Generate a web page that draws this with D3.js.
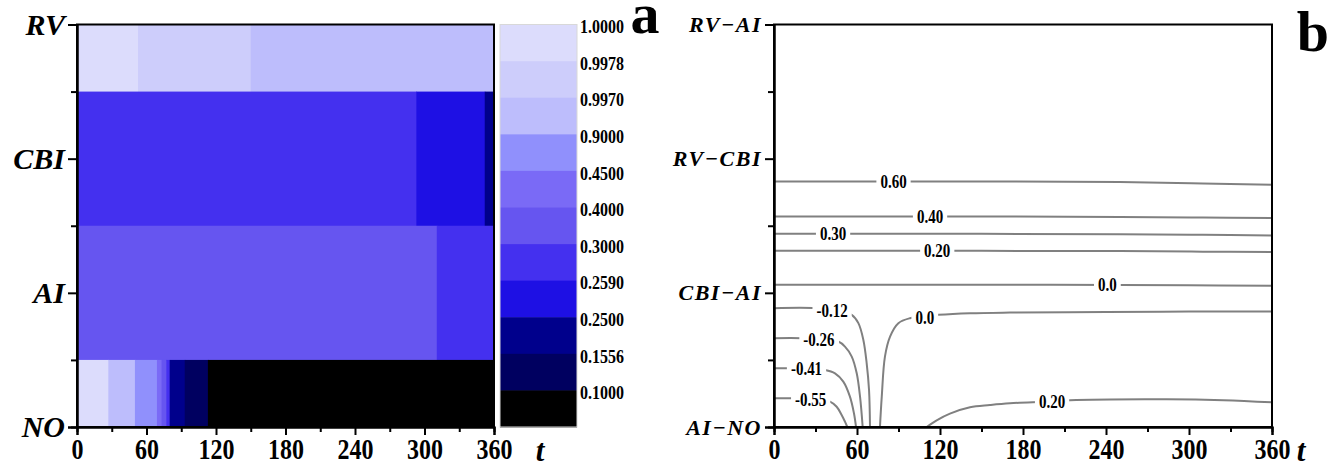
<!DOCTYPE html>
<html><head><meta charset="utf-8">
<script src="https://cdn.jsdelivr.net/npm/d3@7"></script>
<style>
html,body{margin:0;padding:0;background:#fff;}
svg{display:block;}
</style></head>
<body>
<script>
// ---------------- DATA ----------------
const tMajor = [0, 60, 120, 180, 240, 300, 360];
const tMinor = [30, 90, 150, 210, 270, 330];
const rowsA = ["NO", "AI", "CBI", "RV"];          // y = 0..3
const rowsB = ["AI\u2212NO", "CBI\u2212AI", "RV\u2212CBI", "RV\u2212AI"];

// colour bar levels (boundaries top→bottom) and band colours (top→bottom)
const levelLabels = ["1.0000", "0.9978", "0.9970", "0.9000", "0.4500", "0.4000", "0.3000", "0.2590", "0.2500", "0.1556", "0.1000"];
const bandColors = ["#dcdcfc", "#cdcdfb", "#bdbdfc", "#9090fc", "#7a6af6", "#6655f0", "#4430ef", "#1e10e4", "#00008c", "#000060", "#000000"];

// heat map rows: breakpoints in t and a value for each segment
const rvBreaks = [0, 52.7, 150, 360];
const rvValues = [0.999, 0.9975, 0.99];
const cbiBreaks = [0, 293, 352, 360];
const cbiValues = [0.28, 0.255, 0.2];
const aiBreaks = [0, 310.6, 360];
const aiValues = [0.35, 0.28];
const noBreaks = [0, 27, 50, 69, 73, 77, 80, 93, 113, 360];
const noValues = [0.999, 0.99, 0.6, 0.42, 0.35, 0.27, 0.2, 0.12, 0.05];

// contour lines of panel b: [t, y] points, label and label anchor [t, y]
const c060 = [[0, 1.83], [150, 1.83], [250, 1.826], [310, 1.815], [360, 1.806]];
const c040 = [[0, 1.569], [150, 1.569], [250, 1.566], [310, 1.561], [360, 1.557]];
const c030 = [[0, 1.44], [150, 1.44], [250, 1.437], [310, 1.432], [360, 1.428]];
const c020a = [[0, 1.313], [150, 1.313], [250, 1.311], [310, 1.307], [360, 1.304]];
const c000a = [[0, 1.06], [200, 1.06], [300, 1.057], [360, 1.052]];
const cm012 = [[0, 0.886], [30, 0.886], [42, 0.872], [50, 0.855], [56.2, 0.836], [61, 0.774], [64.6, 0.649], [67, 0.475], [68.7, 0.276], [69.4, 0]];
const cm026 = [[0, 0.662], [20, 0.662], [33, 0.655], [41, 0.645], [46.5, 0.637], [51.3, 0.599], [56.2, 0.525], [59.8, 0.40], [62.2, 0.226], [64.1, 0]];
const cm041 = [[0, 0.438], [15, 0.438], [24, 0.434], [31, 0.43], [36.9, 0.425], [44.1, 0.40], [50.1, 0.338], [54.9, 0.226], [57.8, 0.102], [59.3, 0]];
const cm055 = [[0, 0.214], [14, 0.214], [27, 0.207], [35, 0.2], [40.5, 0.189], [45.3, 0.151], [48.9, 0.09], [51.3, 0.04], [53, 0]];
const c000b = [[76.6, 0], [77.9, 0.226], [80.2, 0.525], [83.9, 0.674], [89.9, 0.774], [98.3, 0.811], [109, 0.826], [118.8, 0.836], [141.7, 0.848], [170.6, 0.853], [240, 0.857], [300, 0.86], [360, 0.86]];
const c020b = [[110.4, 0], [117.6, 0.05], [127.2, 0.1], [141.7, 0.147], [156.1, 0.164], [170.6, 0.177], [201, 0.19], [214, 0.2], [284, 0.207], [325, 0.2], [360, 0.184]];

const contours = [
  {pts: c060, label: "0.60", at: [86.4, 1.83]},
  {pts: c040, label: "0.40", at: [112.8, 1.569]},
  {pts: c030, label: "0.30", at: [42.7, 1.44]},
  {pts: c020a, label: "0.20", at: [118, 1.313]},
  {pts: c000a, label: "0.0", at: [241, 1.058]},
  {pts: cm012, label: "-0.12", at: [42, 0.866]},
  {pts: cm026, label: "-0.26", at: [32.5, 0.650]},
  {pts: cm041, label: "-0.41", at: [23.5, 0.432]},
  {pts: cm055, label: "-0.55", at: [26.5, 0.200]},
  {pts: c000b, label: "0.0", at: [109, 0.818]},
  {pts: c020b, label: "0.20", at: [201, 0.189]}
];

// ---------------- DRAW ----------------
const W = 1332, H = 467;
const FONT = "'Liberation Serif','Times New Roman',serif";
const svg = d3.select("body").append("svg").attr("width", W).attr("height", H);

const plotTop = 24.5, plotBottom = 427;
const xA = d3.scaleLinear([0, 360], [77, 494]);
const yA = d3.scaleLinear([0, 3], [plotBottom, plotTop]);
const xB = d3.scaleLinear([0, 360], [774, 1272]);
const yB = d3.scaleLinear([0, 3], [plotBottom, plotTop]);

// stretch text vertically about its own centre
function stretch(sel, k) {
  sel.each(function () {
    const bb = this.getBBox();
    const cy = bb.y + bb.height / 2;
    d3.select(this).attr("transform", `translate(0,${cy}) scale(1,${k}) translate(0,${-cy})`);
  });
}

const colorScale = d3.scaleThreshold()
  .domain([0.1, 0.1556, 0.25, 0.259, 0.3, 0.4, 0.45, 0.9, 0.997, 0.9978])
  .range(bandColors.slice().reverse());

// heat map cells
const rowsData = [
  {row: 3, breaks: rvBreaks, values: rvValues},
  {row: 2, breaks: cbiBreaks, values: cbiValues},
  {row: 1, breaks: aiBreaks, values: aiValues},
  {row: 0, breaks: noBreaks, values: noValues}
];
const cells = [];
rowsData.forEach(r => r.values.forEach((v, i) => {
  cells.push({t0: r.breaks[i], t1: r.breaks[i + 1], y0: Math.max(0, r.row - 0.5), y1: Math.min(3, r.row + 0.5), v});
}));
const gA = svg.append("g");
gA.selectAll("rect.cell").data(cells).join("rect")
  .attr("x", d => xA(d.t0)).attr("width", d => xA(d.t1) - xA(d.t0) + 0.6)
  .attr("y", d => yA(d.y1)).attr("height", d => yA(d.y0) - yA(d.y1) + 0.6)
  .attr("fill", d => colorScale(d.v));

function styleAxis(g) {
  g.select(".domain").attr("stroke", "#000").attr("stroke-width", 2);
  g.selectAll(".tick line").attr("stroke", "#000").attr("stroke-width", 2);
  g.selectAll("text").attr("fill", "#000").style("font-family", FONT).style("font-weight", "bold");
}

function axes(g, x, y, yLabels, ySize, yLS, tX) {
  g.append("g").attr("transform", `translate(0,${plotBottom})`)
    .call(d3.axisBottom(x).tickValues(tMinor).tickSize(5).tickFormat(""))
    .call(styleAxis);
  const xt = g.append("g").attr("transform", `translate(0,${plotBottom})`)
    .call(d3.axisBottom(x).tickValues(tMajor).tickSize(8).tickPadding(5).tickFormat(d3.format("d")))
    .call(styleAxis)
    .selectAll("text").style("font-size", "24px");
  stretch(xt, 1.22);
  g.append("g").attr("transform", `translate(${x(0)},0)`)
    .call(d3.axisLeft(y).tickValues([0.5, 1.5, 2.5]).tickSize(6).tickFormat(""))
    .call(styleAxis);
  g.append("g").attr("transform", `translate(${x(0)},0)`)
    .call(d3.axisLeft(y).tickValues([0, 1, 2, 3]).tickSize(9).tickPadding(3).tickFormat(i => yLabels[i]))
    .call(styleAxis)
    .selectAll("text").style("font-size", ySize).style("font-style", "italic").style("letter-spacing", yLS);
  g.append("rect").attr("x", x(0)).attr("y", y(3)).attr("width", x(360) - x(0)).attr("height", y(0) - y(3))
    .attr("fill", "none").attr("stroke", "#000").attr("stroke-width", 2);
  g.append("text").attr("x", tX).attr("y", 461).text("t")
    .style("font-family", FONT).style("font-weight", "bold").style("font-style", "italic").style("font-size", "31px")
    .attr("text-anchor", "middle");
}
axes(gA, xA, yA, rowsA, "30px", "0px", 540);

// colour bar
const cb = svg.append("g");
const cbY = d3.scaleBand().domain(d3.range(bandColors.length)).range([plotTop, plotBottom]);
cb.selectAll("rect").data(bandColors).join("rect")
  .attr("x", 500).attr("width", 77)
  .attr("y", (d, i) => cbY(i)).attr("height", cbY.bandwidth() + 0.5)
  .attr("fill", d => d);
cb.append("rect").attr("x", 500).attr("y", plotTop).attr("width", 77).attr("height", plotBottom - plotTop)
  .attr("fill", "none").attr("stroke", "#d8d8d8").attr("stroke-width", 1);
const cbl = cb.selectAll("text.lvl").data(levelLabels).join("text")
  .attr("x", 580).attr("y", (d, i) => cbY(i) + 4).attr("dominant-baseline", "middle")
  .text(d => d)
  .style("font-family", FONT).style("font-weight", "bold").style("font-size", "16px");
stretch(cbl, 1.2);

svg.append("text").attr("x", 645).attr("y", 33).text("a").attr("text-anchor", "middle")
  .style("font-family", FONT).style("font-weight", "bold").style("font-size", "58px");

// panel b
const gB = svg.append("g");
const line = d3.line().x(d => xB(d[0])).y(d => yB(d[1])).curve(d3.curveCatmullRom.alpha(0.5));
gB.selectAll("path.contour").data(contours).join("path")
  .attr("d", d => line(d.pts)).attr("fill", "none").attr("stroke", "#808080").attr("stroke-width", 2);
const lab = gB.selectAll("g.lab").data(contours).join("g")
  .attr("transform", d => `translate(${xB(d.at[0])},${yB(d.at[1])})`);
lab.append("text").text(d => d.label).attr("text-anchor", "middle").attr("dy", "0.35em")
  .style("font-family", FONT).style("font-weight", "bold").style("font-size", "15px");
lab.each(function () {
  const g = d3.select(this);
  const bb = g.select("text").node().getBBox();
  g.insert("rect", "text").attr("x", bb.x - 4).attr("y", bb.y + 1).attr("width", bb.width + 8).attr("height", bb.height - 2).attr("fill", "#fff");
});
stretch(lab.selectAll("text"), 1.2);
axes(gB, xB, yB, rowsB, "22px", "1.5px", 1301);

svg.append("text").attr("x", 1313).attr("y", 51).text("b").attr("text-anchor", "middle")
  .style("font-family", FONT).style("font-weight", "bold").style("font-size", "58px");
</script>
</body></html>
